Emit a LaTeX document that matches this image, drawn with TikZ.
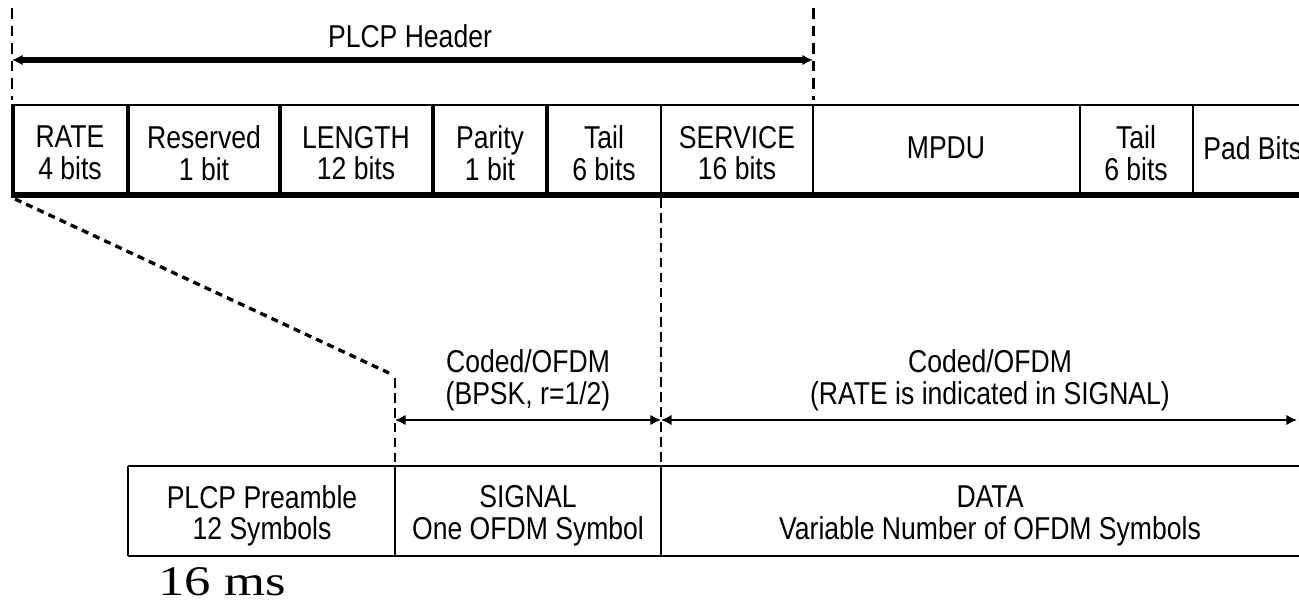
\documentclass[tikz,border=0pt]{standalone}
\usepackage{fontspec}
\setmainfont{Liberation Sans}[FakeStretch=0.84]
\newfontfamily\unitfont{Liberation Serif}[FakeStretch=1.25]
\usetikzlibrary{arrows.meta}

\tikzset{
    field/.style={align=center, inner sep=0pt, font=\fontsize{18}{18}\selectfont},
    frame/.style={line width=1.5pt},
    guide/.style={line width=1.1pt, dash pattern=on 5.5pt off 3pt},
    bigguide/.style={line width=1.7pt, dash pattern=on 6pt off 4pt},
    zoomline/.style={line width=1.9pt, dash pattern=on 4pt off 3pt},
    span/.style={{Latex[length=6pt,width=6pt]}-{Latex[length=6pt,width=6pt]}, line width=1.7pt}
}

\begin{document}
\begin{tikzpicture}[x=0.02cm, y=-0.02cm]
    \useasboundingbox (0, 0) rectangle (1299, 605);

    % PLCP header span
    \coordinate (HL) at (12, 60);
    \coordinate (HR) at (813, 60);
    \draw[bigguide] (12, 8) -- (12, 100);
    \draw[bigguide] (813, 8) -- (813, 100);
    \draw[span, line width=3.2pt] (HL) -- (HR);
    \node[field] at (410, 36) (HDR) {PLCP Header};

    % frame fields
    \draw[line width=1.7pt] (13, 105) -- (1299, 105);
    \draw[line width=3pt] (11, 195) -- (1299, 195);
    \draw[line width=2.4pt] (13, 104) -- (13, 196);
    \foreach \x in {128, 280, 433, 547}
        \draw[line width=2pt] (\x, 105) -- (\x, 195);
    \foreach \x in {661, 813, 1080, 1193}
        \draw[line width=1.3pt] (\x, 105) -- (\x, 195);

    \node[field] at (70, 153) (RATE) {RATE\\4 bits};
    \node[field] at (204, 153) (RES) {Reserved\\1 bit};
    \node[field] at (356, 153) (LEN) {LENGTH\\12 bits};
    \node[field] at (490, 153) (PAR) {Parity\\1 bit};
    \node[field] at (604, 153) (TAIL) {Tail\\6 bits};
    \node[field] at (737, 153) (SERV) {SERVICE\\16 bits};
    \node[field] at (946, 148) (MPDU) {MPDU};
    \node[field] at (1136, 153) (TAIL2) {Tail\\6 bits};
    \node[field, anchor=west] at (1203, 148) (PAD) {Pad Bits};

    % guides down to the PPDU
    \coordinate (PA) at (15, 199);
    \coordinate (PB) at (389, 373);
    \coordinate (PC) at (395, 378);
    \coordinate (PD) at (395, 466);
    \coordinate (SA) at (661, 198);
    \coordinate (SB) at (661, 466);
    \draw[zoomline] (PA) -- (PB);
    \draw[guide] (PC) -- (PD);
    \draw[guide] (SA) -- (SB);

    % coding spans
    \coordinate (CL) at (395, 420);
    \coordinate (CM) at (661, 420);
    \coordinate (CR) at (1297, 420);
    \draw[span] (CL) -- (CM);
    \draw[span] (CM) -- (CR);
    \node[field] at (528, 380) (COD1) {Coded/OFDM\\(BPSK, r=1/2)};
    \node[field] at (990, 380) (COD2) {Coded/OFDM\\(RATE is indicated in SIGNAL)};

    % PPDU
    \draw[frame] (128, 466) -- (1299, 466);
    \draw[frame] (128, 556) -- (1299, 556);
    \foreach \x in {128, 395, 661}
        \draw[frame] (\x, 466) -- (\x, 556);

    \node[field] at (262, 516) (PRE) {PLCP Preamble\\12 Symbols};
    \node[field] at (528, 516) (SIG) {SIGNAL\\One OFDM Symbol};
    \node[field] at (990, 516) (DATA) {DATA\\Variable Number of OFDM Symbols};

    \node[inner sep=0pt, font=\unitfont\fontsize{24}{24}\selectfont] at (222, 582) (DUR) {16 ms};
\end{tikzpicture}
\end{document}
